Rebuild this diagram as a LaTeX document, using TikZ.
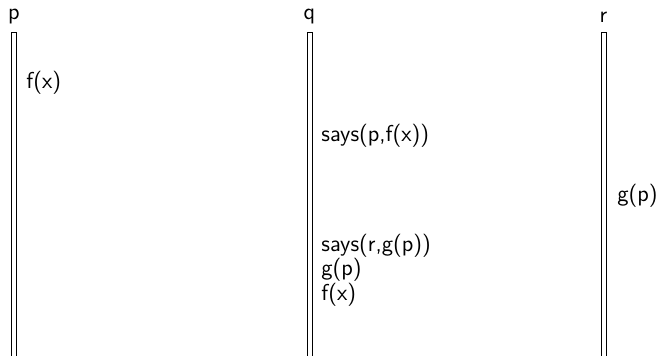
\documentclass[tikz,border=0pt]{standalone}
\begin{document}
\begin{tikzpicture}[x=0.5pt,y=-0.5pt,
  lifeline/.style={draw=black,line width=0.5pt,fill=white},
  lbl/.style={font=\sffamily\fontsize{11.5}{13.5}\selectfont,inner sep=0pt,anchor=west},
  head/.style={font=\sffamily\fontsize{11.5}{13.5}\selectfont,inner sep=0pt}]
\useasboundingbox (0,0) rectangle (657,356);
\clip (0,0) rectangle (657,356);
% lifelines
\draw[lifeline] (11.5,33) rectangle (16.5,370);
\draw[lifeline] (307,33) rectangle (312,370);
\draw[lifeline] (601,33) rectangle (606,370);
% heads
\node[head] (p) at (14,17) {p};
\node[head] (q) at (309.5,17) {q};
\node[head] (r) at (603.5,17) {r};
% labels
\node[lbl] (t1) at (26,83) {f(x)};
\node[lbl] (t2) at (321,136) {says(p,f(x))};
\node[lbl] (t3) at (617,196) {g(p)};
\node[lbl] (t4) at (321,246) {says(r,g(p))};
\node[lbl] (t5) at (321,270) {g(p)};
\node[lbl] (t6) at (321,295) {f(x)};
\end{tikzpicture}
\end{document}
